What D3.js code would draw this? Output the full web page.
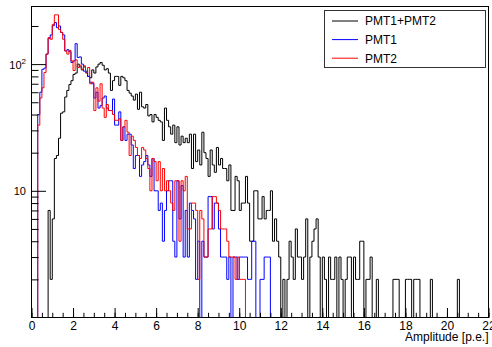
<!DOCTYPE html>
<html>
<head>
<meta charset="utf-8">
<script src="https://d3js.org/d3.v7.min.js"></script>
<style>
  body { margin: 0; background: #fff; }
  svg text { font-family: "Liberation Sans", Arial, Helvetica, sans-serif; }
</style>
</head>
<body>
<svg id="chart" width="492" height="347"></svg>
<script>
// bin contents, 220 bins of 0.1 p.e. from 0 to 22 (one row = 20 bins)
var sumCounts = [
  0,0,0,0,0,0,0,0,7,2,6,18,19,26,41,42,55,62,69,74,
  83,85,100,95,90,95,88,80,78,90,85,95,100,103,98,90,92,85,62,74,
  80,80,68,80,78,74,62,59,56,52,58,44,60,46,45,48,39,40,35,40,
  38,36,35,25,45,36,32,28,33,24,32,23,27,24,26,24,28,15,28,17,
  21,16,29,20,18,13,21,16,14,22,16,18,15,15,12,16,7,7,13,12,
  7,8,8,13,8,4,4,10,10,6,6,9,6,7,7,10,4,6,4,3,
  1,2,1,2,4,3,2,5,3,3,2,3,6,1,3,4,5,6,3,1,
  3,2,1,3,2,2,3,1,3,2,1,2,3,3,1,3,2,2,4,4,
  1,2,2,3,1,1,2,1,0,0,1,0,1,0,2,2,2,1,1,1,
  2,2,2,1,2,2,2,0,1,0,0,1,2,0,0,1,0,0,0,0,
  0,0,0,0,0,2,0,0,0,0,0,0,0,0,0,0,0,0,0,0
];
var pmt1Counts = [
  0,0,0,40,60,91,93,120,160,170,201,213,194,200,178,170,127,130,125,103,
  106,145,113,114,100,88,86,80,72,70,54,60,45,47,54,56,45,43,43,53,
  33,33,42,25,32,25,28,28,23,15,19,19,13,16,17,19,16,13,18,10,
  10,7,8,4,7,10,12,12,4,3,12,6,11,3,7,3,8,7,6,2,
  4,1,4,3,3,9,9,5,8,8,5,3,3,3,2,3,1,3,3,2,
  3,3,3,3,2,2,4,4,0,0,2,2,3,3,3,0,0,0,0,0,
  0,0,0,0,0,0,0,0,0,0,0,0,0,0,0,0,0,0,0,0,
  0,0,0,0,0,0,0,0,0,0,0,0,0,0,0,0,0,0,0,0,
  0,0,0,0,0,0,0,0,0,0,0,0,0,0,0,0,0,0,0,0,
  0,0,0,0,0,0,0,0,0,0,0,0,0,0,0,0,0,0,0,0,
  0,0,0,0,0,0,0,0,0,0,0,0,0,0,0,0,0,0,0,0
];
var pmt2Counts = [
  0,0,0,33,54,65,86,120,162,157,206,245,245,188,178,157,127,120,128,106,
  89,108,94,98,91,97,85,94,70,72,43,65,51,70,45,38,48,43,43,40,
  36,36,37,25,32,36,29,19,27,25,22,19,18,22,21,18,15,10,18,17,
  12,17,10,15,10,12,10,8,7,12,12,4,12,10,13,5,5,8,8,7,
  2,7,6,3,3,5,5,9,9,8,7,5,5,5,4,3,3,3,2,3,
  2,2,2,0,0,0,0,0,0,0,0,0,0,0,0,0,0,0,0,0,
  0,0,0,0,0,0,0,0,0,0,0,0,0,0,0,0,0,0,0,0,
  0,0,0,0,0,0,0,0,0,0,0,0,0,0,0,0,0,0,0,0,
  0,0,0,0,0,0,0,0,0,0,0,0,0,0,0,0,0,0,0,0,
  0,0,0,0,0,0,0,0,0,0,0,0,0,0,0,0,0,0,0,0,
  0,0,0,0,0,0,0,0,0,0,0,0,0,0,0,0,0,0,0,0
];
var seriesNames = ["PMT1+PMT2", "PMT1", "PMT2"];
var seriesColors = ["#000000", "#0000ff", "#ff0000"];
var xMajorTicks = [0, 2, 4, 6, 8, 10, 12, 14, 16, 18, 20, 22];
var xMinorTicks = d3.range(0, 22.01, 0.5);
var yMajorTicks = [10, 100];
var yMinorTicks = [2, 3, 4, 5, 6, 7, 8, 9, 20, 30, 40, 50, 60, 70, 80, 90, 200];
var xTitle = "Amplitude [p.e.]";
var binWidth = 0.1;

var svg = d3.select("#chart");
var frameL = 31.5, frameR = 488.5, frameT = 6.5, frameB = 317.5;

var x = d3.scaleLinear().domain([0, 22]).range([frameL, frameR]);
var y = d3.scaleLog().domain([1, 285]).range([frameB, frameT]);

svg.append("defs").append("clipPath").attr("id", "frame-clip")
  .append("rect")
  .attr("x", frameL).attr("y", frameT - 1)
  .attr("width", frameR - frameL).attr("height", frameB - frameT + 1.5);

// histograms drawn as step outlines
var hists = [sumCounts, pmt1Counts, pmt2Counts];
var line = d3.line().x(d => d[0]).y(d => d[1]);
var histGroup = svg.append("g").attr("clip-path", "url(#frame-clip)");
hists.forEach(function(counts, k) {
  var pts = [];
  counts.forEach(function(c, i) {
    var yy = y(Math.max(c, 1));
    pts.push([x(i * binWidth), yy]);
    pts.push([x((i + 1) * binWidth), yy]);
  });
  histGroup.append("path")
    .attr("d", line(pts))
    .attr("fill", "none")
    .attr("stroke", seriesColors[k])
    .attr("stroke-width", 1);
});

// x axis: ticks point into the frame
var xMinor = svg.append("g").attr("transform", "translate(0," + frameB + ")")
  .call(d3.axisBottom(x).tickValues(xMinorTicks).tickSize(-4.7).tickFormat(""));
var xMajor = svg.append("g").attr("transform", "translate(0," + frameB + ")")
  .call(d3.axisBottom(x).tickValues(xMajorTicks).tickSize(-9.5).tickPadding(3.5)
    .tickFormat(d3.format("d")));
xMinor.select(".domain").remove();
xMajor.select(".domain").remove();
xMajor.selectAll("text").attr("font-size", 12)
  .attr("font-family", "Liberation Sans, Arial, sans-serif");

// y axis (log)
var yMinor = svg.append("g").attr("transform", "translate(" + frameL + ",0)")
  .call(d3.axisLeft(y).tickValues(yMinorTicks).tickSize(-7).tickFormat(""));
var yMajor = svg.append("g").attr("transform", "translate(" + frameL + ",0)")
  .call(d3.axisLeft(y).tickValues(yMajorTicks).tickSize(-14.5).tickPadding(5.5)
    .tickFormat(""));
yMinor.select(".domain").remove();
yMajor.select(".domain").remove();
svg.selectAll(".tick line").attr("stroke", "#000");
svg.selectAll(".tick text").attr("fill", "#000");

yMajor.selectAll(".tick").each(function(d) {
  var t = d3.select(this).select("text")
    .attr("font-size", 11).attr("dy", "0.36em").attr("x", -5.5)
    .attr("font-family", "Liberation Sans, Arial, sans-serif");
  var p = Math.round(Math.log10(d));
  if (p === 1) {
    t.text("10");
  } else {
    t.append("tspan").text("10");
    t.append("tspan").attr("font-size", 8).attr("dy", "-0.6em").text(p);
  }
});

// frame
svg.append("rect")
  .attr("x", frameL).attr("y", frameT)
  .attr("width", frameR - frameL).attr("height", frameB - frameT)
  .attr("fill", "none").attr("stroke", "#000").attr("stroke-width", 1);

// axis title
svg.append("text")
  .attr("x", frameR).attr("y", 341)
  .attr("text-anchor", "end")
  .attr("font-size", 12)
  .text(xTitle);

// legend
var lg = svg.append("g");
lg.append("rect")
  .attr("x", 324.5).attr("y", 10.5).attr("width", 161).attr("height", 57)
  .attr("fill", "#fff").attr("stroke", "#333").attr("stroke-width", 1);
seriesNames.forEach(function(name, i) {
  var yy = 21 + i * 18.6;
  lg.append("line")
    .attr("x1", 332).attr("x2", 358).attr("y1", yy).attr("y2", yy)
    .attr("stroke", seriesColors[i]).attr("stroke-width", 1);
  lg.append("text")
    .attr("x", 365).attr("y", yy).attr("dy", "0.36em")
    .attr("font-size", 12).attr("fill", "#000")
    .text(name);
});
</script>
</body>
</html>
